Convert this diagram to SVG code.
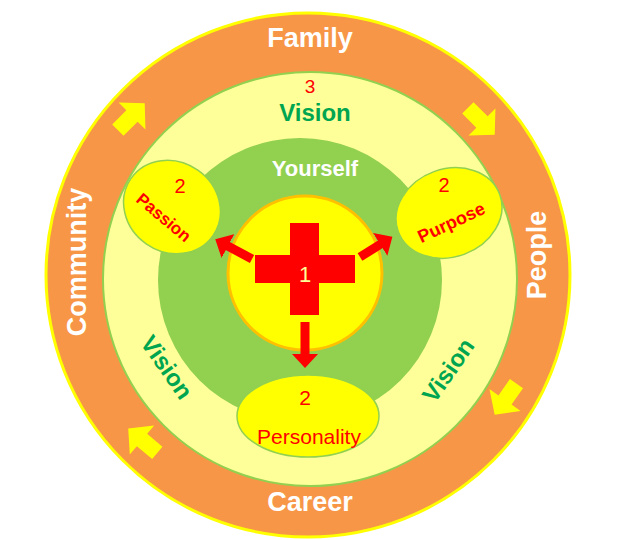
<svg xmlns="http://www.w3.org/2000/svg" width="617" height="540" viewBox="0 0 617 540">
<defs>
<style>
text{font-family:"Liberation Sans",Arial,sans-serif;text-anchor:middle}
.w{fill:#fff;font-weight:bold;font-size:27px}
.g{fill:#00A550;font-weight:bold;font-size:24px}
.r{fill:#FF0000}
.ya{fill:#FFFF00}
.ell{fill:#FFFF00;stroke:#92D050;stroke-width:1.5}
.ra{stroke:#FF0000;stroke-width:9;fill:none}
</style>
<polygon id="ba" points="-20,-8 0,-8 0,-19 18,0 0,19 0,8 -20,8"/>
<marker id="rh" markerWidth="3" markerHeight="3" refX="0.5" refY="1.5" orient="auto" markerUnits="strokeWidth"><path d="M0,0 L1.6,1.5 L0,3 Z" fill="#FF0000"/></marker>
</defs>
<rect width="617" height="540" fill="#fff"/>
<g id="ring-outer"><circle cx="308" cy="275" r="262" fill="#F79646" stroke="#FFFF00" stroke-width="3"/></g>
<g id="ring-vision"><circle cx="310" cy="279" r="207" fill="#FFFF99" stroke="#92D050" stroke-width="2"/></g>
<g id="yourself"><circle cx="300" cy="280" r="142" fill="#92D050"/></g>
<g id="core"><circle cx="305" cy="273" r="77" fill="#FFFF00" stroke="#FFC000" stroke-width="3"/>
<rect x="290" y="223" width="29" height="92" fill="#FF0000"/><rect x="255" y="255" width="100" height="28" fill="#FF0000"/>
<text x="305" y="282" font-size="22" fill="#FFFF99">1</text></g>
<g id="connectors">
<line class="ra" x1="252" y1="259" x2="224" y2="244" marker-end="url(#rh)"/>
<line class="ra" x1="360" y1="257" x2="384" y2="242" marker-end="url(#rh)"/>
<line class="ra" x1="305" y1="322" x2="305" y2="358" marker-end="url(#rh)"/>
<use href="#ba" class="ya" transform="translate(132,116) rotate(-45)"/>
<use href="#ba" class="ya" transform="translate(482,122) rotate(45)"/>
<use href="#ba" class="ya" transform="translate(505,400) rotate(125)"/>
<use href="#ba" class="ya" transform="translate(142,440) rotate(220)"/>
</g>
<g id="passion"><ellipse class="ell" cx="172" cy="207" rx="50" ry="45" transform="rotate(35 172 207)"/>
<text x="180" y="193" font-size="20" class="r">2</text>
<text class="r" font-weight="bold" font-size="17" transform="translate(160,222) rotate(40)">Passion</text></g>
<g id="purpose"><ellipse class="ell" cx="449" cy="213" rx="54" ry="44" transform="rotate(-20 449 213)"/>
<text x="444" y="192" font-size="20" class="r">2</text>
<text class="r" font-weight="bold" font-size="18" transform="translate(454,228) rotate(-25)">Purpose</text></g>
<g id="personality"><ellipse class="ell" cx="308" cy="416" rx="71" ry="41"/>
<text x="305" y="405" font-size="21" class="r">2</text>
<text x="309" y="444" font-size="21" class="r">Personality</text></g>
<g id="labels">
<text class="w" x="310" y="47">Family</text>
<text class="w" x="310" y="511">Career</text>
<text class="w" transform="translate(86,262) rotate(-90)">Community</text>
<text class="w" transform="translate(546,255) rotate(-90)">People</text>
<text x="310" y="93" font-size="19" class="r">3</text>
<text class="g" x="315" y="121">Vision</text>
<text x="315" y="176" fill="#fff" font-weight="bold" font-size="22">Yourself</text>
<text class="g" transform="translate(160,372) rotate(55)">Vision</text>
<text class="g" transform="translate(455,375) rotate(-55)">Vision</text>
</g>
</svg>
